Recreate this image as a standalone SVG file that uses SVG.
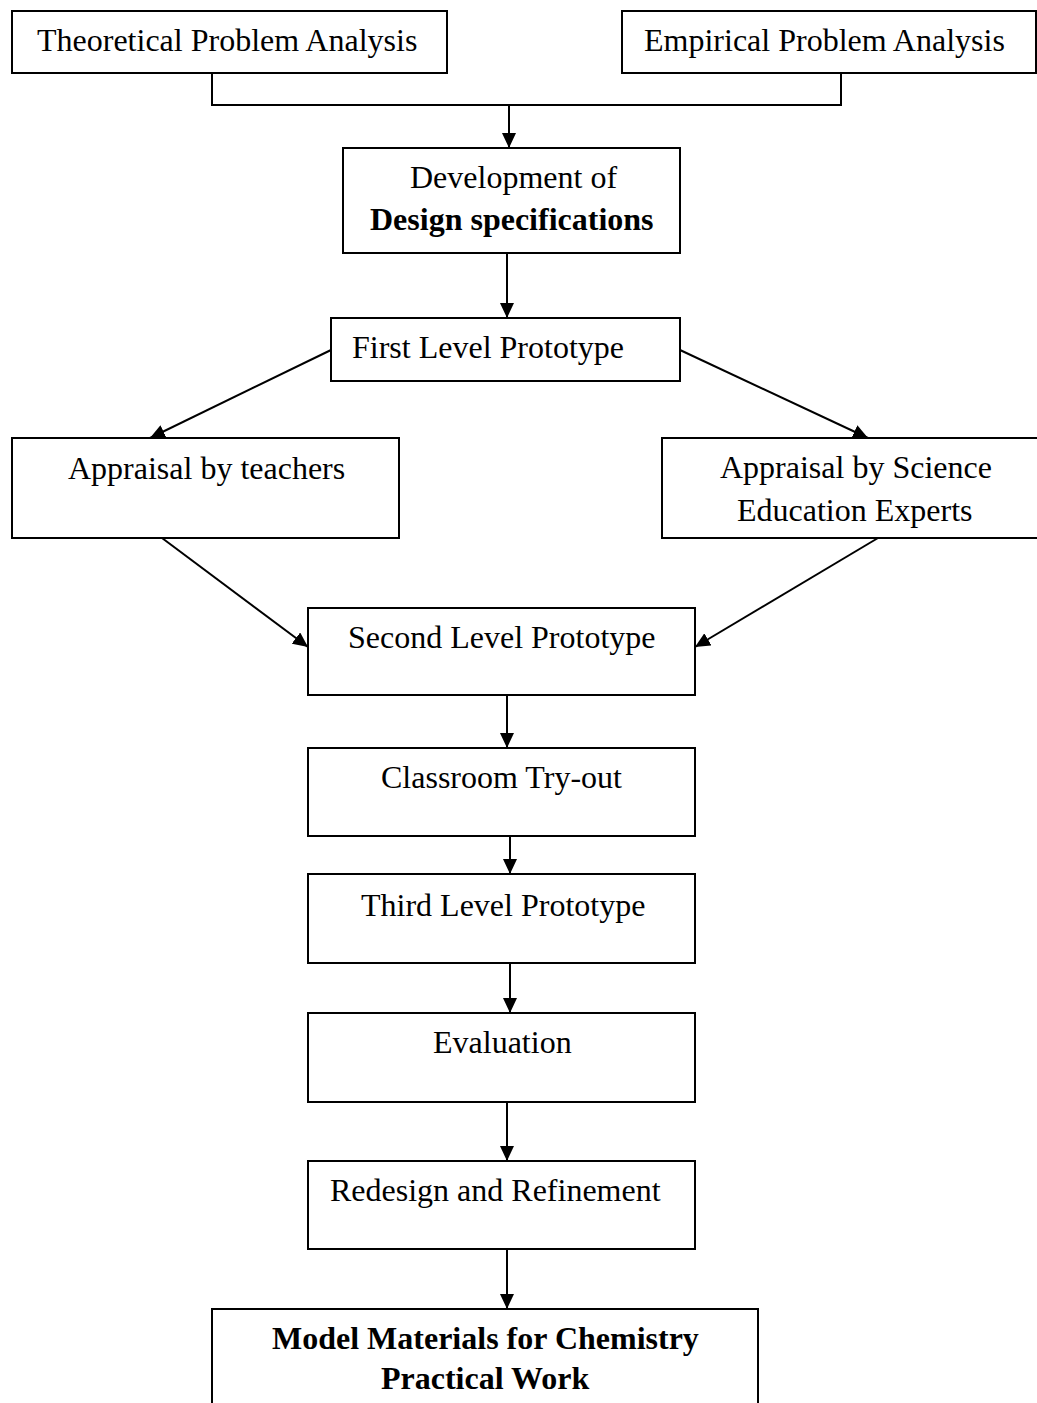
<svg xmlns="http://www.w3.org/2000/svg" width="1037" height="1403" viewBox="0 0 1037 1403">
  <style>
    .box { fill: #ffffff; stroke: #000000; stroke-width: 2; }
    .lbl { font-family: "Liberation Serif", "Times New Roman", serif; font-size: 32px; fill: #000000; }
    .bold { font-weight: bold; }
    .wire { fill: none; stroke: #000000; stroke-width: 2; }
    .arr { fill: none; stroke: #000000; stroke-width: 2; marker-end: url(#head); }
  </style>
  <defs>
    <marker id="head" markerWidth="15" markerHeight="14" refX="15" refY="7" orient="auto" markerUnits="userSpaceOnUse">
      <path d="M0,0 L15,7 L0,14 z" fill="#000000"/>
    </marker>
  </defs>
  <rect width="1037" height="1403" fill="#ffffff"/>

  <!-- connectors -->
  <g id="connectors">
    <polyline class="wire" points="212,73 212,105 841,105 841,73"/>
    <line class="arr" x1="509" y1="105" x2="509" y2="148"/>
    <line class="arr" x1="507" y1="253" x2="507" y2="318"/>
    <line class="arr" x1="331" y1="350" x2="150" y2="438"/>
    <line class="arr" x1="680" y1="350" x2="868" y2="438"/>
    <line class="arr" x1="162" y1="538" x2="308" y2="647"/>
    <line class="arr" x1="878" y1="538" x2="695" y2="647"/>
    <line class="arr" x1="507" y1="695" x2="507" y2="748"/>
    <line class="arr" x1="510" y1="836" x2="510" y2="874"/>
    <line class="arr" x1="510" y1="963" x2="510" y2="1013"/>
    <line class="arr" x1="507" y1="1102" x2="507" y2="1161"/>
    <line class="arr" x1="507" y1="1249" x2="507" y2="1309"/>
  </g>

  <!-- nodes -->
  <g id="theoretical">
    <rect class="box" x="12" y="11" width="435" height="62"/>
    <text class="lbl" x="37" y="51">Theoretical Problem Analysis</text>
  </g>
  <g id="empirical">
    <rect class="box" x="622" y="11" width="414" height="62"/>
    <text class="lbl" x="644" y="51">Empirical Problem Analysis</text>
  </g>
  <g id="design-specs">
    <rect class="box" x="343" y="148" width="337" height="105"/>
    <text class="lbl" x="410" y="188">Development of</text>
    <text class="lbl bold" x="370" y="230">Design specifications</text>
  </g>
  <g id="first-prototype">
    <rect class="box" x="331" y="318" width="349" height="63"/>
    <text class="lbl" x="352" y="358">First Level Prototype</text>
  </g>
  <g id="appraisal-teachers">
    <rect class="box" x="12" y="438" width="387" height="100"/>
    <text class="lbl" x="68" y="479">Appraisal by teachers</text>
  </g>
  <g id="appraisal-experts">
    <rect class="box" x="662" y="438" width="400" height="100"/>
    <text class="lbl" x="720" y="478">Appraisal by Science</text>
    <text class="lbl" x="737" y="521">Education Experts</text>
  </g>
  <g id="second-prototype">
    <rect class="box" x="308" y="608" width="387" height="87"/>
    <text class="lbl" x="348" y="648">Second Level Prototype</text>
  </g>
  <g id="classroom-tryout">
    <rect class="box" x="308" y="748" width="387" height="88"/>
    <text class="lbl" x="381" y="788">Classroom Try-out</text>
  </g>
  <g id="third-prototype">
    <rect class="box" x="308" y="874" width="387" height="89"/>
    <text class="lbl" x="361" y="916">Third Level Prototype</text>
  </g>
  <g id="evaluation">
    <rect class="box" x="308" y="1013" width="387" height="89"/>
    <text class="lbl" x="433" y="1053">Evaluation</text>
  </g>
  <g id="redesign">
    <rect class="box" x="308" y="1161" width="387" height="88"/>
    <text class="lbl" x="330" y="1201">Redesign and Refinement</text>
  </g>
  <g id="model-materials">
    <rect class="box" x="212" y="1309" width="546" height="120"/>
    <text class="lbl bold" x="272" y="1349">Model Materials for Chemistry</text>
    <text class="lbl bold" x="381" y="1389">Practical Work</text>
  </g>
</svg>
